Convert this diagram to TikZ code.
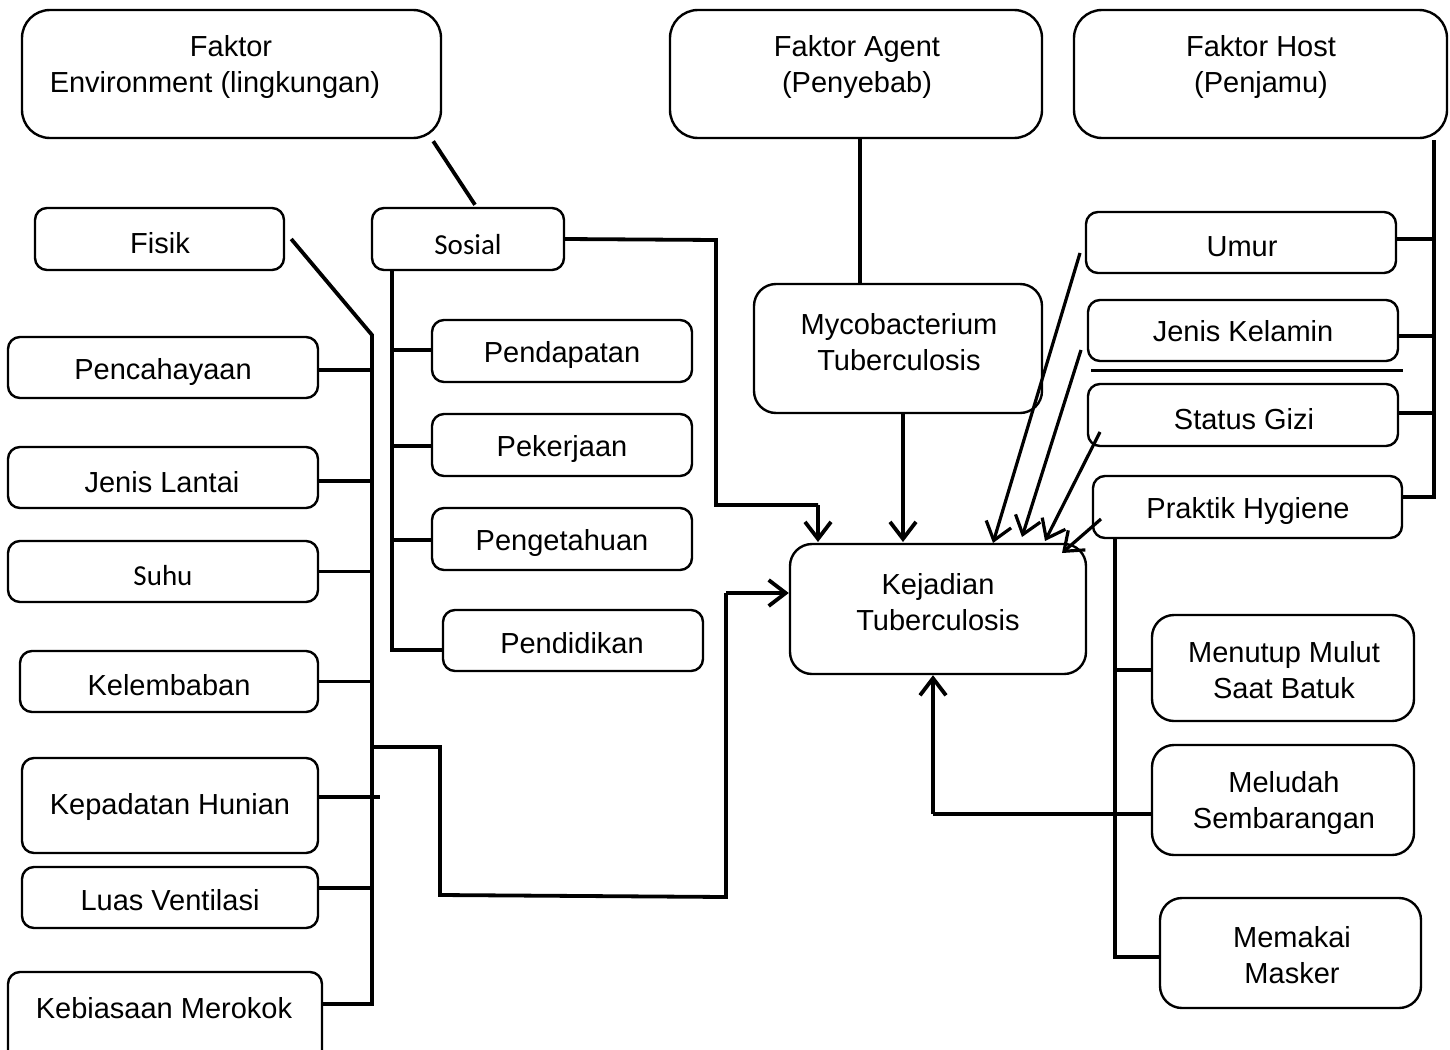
\documentclass[tikz,border=0pt]{standalone}
\usepackage{fontspec}
\setmainfont{Liberation Sans}
\newfontfamily\calfont{Carlito}
\usetikzlibrary{arrows.meta,calc}
\newcommand\mybox[6][box]{\node[#1,minimum width={#5-#3},minimum height={#6-#4}] (#2) at ({(#3+#5)/2},{(#4+#6)/2}) {};}
\begin{document}
\begin{tikzpicture}[x=1pt,y=-1pt,
  box/.style={draw,line width=2.4pt,rounded corners=12pt,inner sep=0pt},
  bigbox/.style={box,rounded corners=28pt},
  midbox/.style={box,rounded corners=22pt},
  txt/.style={align=center,inner sep=0pt,yshift=-3pt,font=\fontsize{29}{36}\selectfont},
  conn/.style={line width=3.8pt},
  arr/.style={conn,-{Straight Barb[length=17pt,width=26pt]}},
  darr/.style={line width=3.2pt,-{Straight Barb[length=17pt,width=26pt]}}]
\useasboundingbox (0,0) rectangle (1450,1049);
\clip (0,0) rectangle (1450,1049);
% boxes
\mybox[bigbox]{env}{22}{10}{441}{138}
\mybox[bigbox]{agent}{670}{10}{1042}{138}
\mybox[bigbox]{host}{1074}{10}{1447}{138}
\mybox{fisik}{35}{208}{284}{270}
\mybox{sosial}{372}{208}{564}{270}
\mybox{pencah}{8}{337}{318}{398}
\mybox{lantai}{8}{447}{318}{508}
\mybox{suhu}{8}{541}{318}{602}
\mybox{lembab}{20}{651}{318}{712}
\mybox{padat}{22}{758}{318}{853}
\mybox{ventil}{22}{867}{318}{928}
\mybox{rokok}{8}{972}{322}{1075}
\mybox{dapat}{432}{320}{692}{382}
\mybox{kerja}{432}{414}{692}{476}
\mybox{tahu}{432}{508}{692}{570}
\mybox{didik}{443}{610}{703}{671}
\mybox[midbox]{myco}{754}{284}{1042}{413}
\mybox[midbox]{kejadian}{790}{544}{1086}{674}
\mybox{umur}{1086}{212}{1396}{273}
\mybox{kelamin}{1088}{300}{1398}{361}
\mybox{gizi}{1088}{384}{1398}{446}
\mybox{hygiene}{1093}{476}{1402}{538}
\mybox[midbox]{menutup}{1152}{615}{1414}{721}
\mybox[midbox]{meludah}{1152}{745}{1414}{855}
\mybox[midbox]{masker}{1160}{898}{1421}{1008}
% texts
\node[txt] (t-env) at (215,64) {\hspace*{32pt}Faktor\\Environment (lingkungan)};
\node[txt] (t-agent) at (857,64) {Faktor Agent\\(Penyebab)};
\node[txt] (t-host) at (1261,64) {Faktor Host\\(Penjamu)};
\node[txt] (t-fisik) at (160,240) {Fisik};
\node[txt,font=\calfont\fontsize{29}{36}\selectfont] (t-sosial) at (468,242) {Sosial};
\node[txt] (t-pencah) at (163,369) {Pencahayaan};
\node[txt] (t-lantai) at (162,479) {Jenis Lantai};
\node[txt,font=\calfont\fontsize{29}{36}\selectfont] (t-suhu) at (163,573) {Suhu};
\node[txt] (t-lembab) at (169,682) {Kelembaban};
\node[txt] (t-padat) at (170,804) {Kepadatan Hunian};
\node[txt] (t-ventil) at (170,897) {Luas Ventilasi};
\node[txt] (t-rokok) at (164,1005) {Kebiasaan Merokok};
\node[txt] (t-dapat) at (562,352) {Pendapatan};
\node[txt] (t-kerja) at (562,446) {Pekerjaan};
\node[txt] (t-tahu) at (562,540) {Pengetahuan};
\node[txt] (t-didik) at (572,640) {Pendidikan};
\node[txt] (t-myco) at (899,339) {Mycobacterium\\Tuberculosis};
\node[txt] (t-kejadian) at (938,599) {Kejadian\\Tuberculosis};
\node[txt] (t-umur) at (1242,244) {Umur};
\node[txt] (t-kelamin) at (1243,328) {Jenis Kelamin};
\node[txt] (t-gizi) at (1244,416) {Status Gizi};
\node[txt] (t-hygiene) at (1248,508) {Praktik Hygiene};
\node[txt] (t-menutup) at (1284,667) {Menutup Mulut\\Saat Batuk};
\node[txt] (t-meludah) at (1284,800) {Meludah\\Sembarangan};
\node[txt] (t-masker) at (1292,952) {Memakai\\Masker};
% coordinates
\coordinate (trunkL) at (372,335);
\coordinate (trunkS) at (392,270);
\coordinate (trunkH) at (1434,140);
\coordinate (trunkP) at (1115,538);
% environment connectors
\draw[conn] ([xshift=-9pt,yshift=-2pt]env.south east) -- ([xshift=7pt,yshift=2pt]sosial.north);
\draw[conn] ([xshift=6pt]fisik.east) -- (trunkL) -- (372,1004) -- (rokok.east |- 0,1004);
\draw[conn] (pencah.east |- 0,370) -- (372,370);
\draw[conn] (lantai.east |- 0,481) -- (372,481);
\draw[conn] (suhu.east) -- (suhu.east -| trunkL);
\draw[conn] (lembab.east) -- (lembab.east -| trunkL);
\draw[conn] (padat.east |- 0,797) -- (380,797);
\draw[conn] (ventil.east |- 0,888) -- (372,888);
\draw[conn] (372,747) -- (440,747) -- (440,895) -- (726,897) -- (726,593);
\draw[arr] (726,593) -- (kejadian.west |- 0,593);
% sosial
\draw[conn] (trunkS) -- (392,650) -- (didik.west |- 0,650);
\draw[conn] (392,350) -- (dapat.west |- 0,350);
\draw[conn] (392,446) -- (kerja.west |- 0,446);
\draw[conn] (392,540) -- (tahu.west |- 0,540);
\draw[conn] (sosial.east) -- (716,240) -- (716,505) -- (818,505);
\draw[arr] (818,505) -- (818,542);
% agent
\draw[conn] (agent.south -| 860,0) -- (myco.north -| 860,0);
\draw[arr] (myco.south -| 903,0) -- (903,542);
% host
\draw[conn] (trunkH) -- (1434,497) -- (hygiene.east |- 0,497);
\draw[conn] (umur.east |- 0,239) -- (1434,239);
\draw[conn] (kelamin.east |- 0,336) -- (1434,336);
\draw[conn] (gizi.east |- 0,413) -- (1434,413);
\draw[line width=3pt] (1091,370) -- (1403,370);
\draw[darr] (1080,253) -- (993,543);
\draw[darr] (1081,350) -- (1022,537);
\draw[darr] (1100,432) -- (1045,541);
\draw[darr] (1101,519) -- (1062,553);
% hygiene branch
\draw[conn] (trunkP) -- (1115,957) -- (masker.west |- 0,957);
\draw[conn] (1115,670) -- (menutup.west |- 0,670);
\draw[conn] (meludah.west |- 0,814) -- (933,814);
\draw[arr] (933,814) -- (kejadian.south -| 933,0);
\end{tikzpicture}
\end{document}
